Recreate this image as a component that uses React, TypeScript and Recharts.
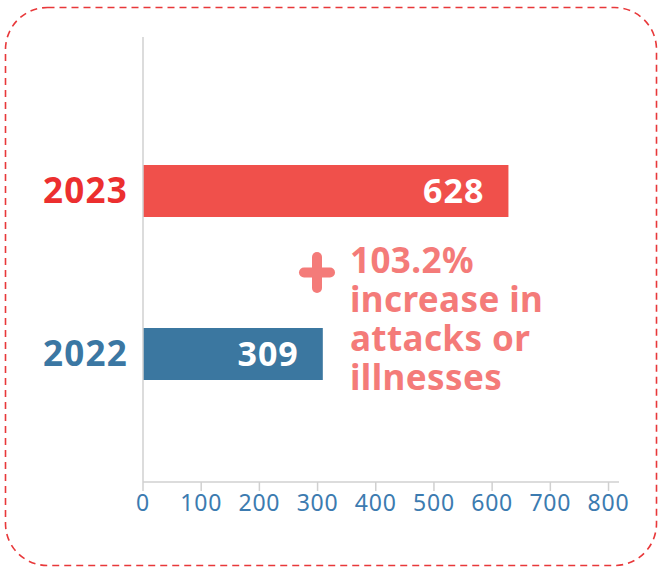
import React from 'react';
import { BarChart, Bar, XAxis, YAxis, Cell, LabelList } from 'recharts';

const years = ['2023', '2022'];
const incidents = [628, 309];
const barColors = ['#f0504b', '#3b77a0'];
const yearColors = ['#ec2f2f', '#3b77a3'];
const xTicks = [0, 100, 200, 300, 400, 500, 600, 700, 800];
const noteLines = ['103.2%', 'increase in', 'attacks or', 'illnesses'];

const chartData = years.map((year, i) => ({ year, value: incidents[i] }));

const FONT = "'Noto Sans', 'Open Sans', sans-serif";

const YearTick = (props: any) => {
  const { x, y, payload } = props;
  const idx = years.indexOf(payload.value);
  return (
    <text x={x - 7} y={y} dy="0.36em" textAnchor="end" fill={yearColors[idx]}
      fontFamily={FONT} fontWeight={700} fontSize={35} letterSpacing={1.2}>
      {payload.value}
    </text>
  );
};

const ValueTick = (props: any) => {
  const { x, y, payload } = props;
  return (
    <text x={x} y={y} dy="0.71em" textAnchor="middle" fill="#3c7bb0"
      fontFamily={FONT} fontSize={23} letterSpacing={0.8}>
      {payload.value}
    </text>
  );
};

const BarValue = (props: any) => {
  const { x, y, width, height, value } = props;
  return (
    <text x={x + width - 24} y={y + height / 2} dy="0.36em" textAnchor="end" fill="#ffffff"
      fontFamily={FONT} fontWeight={700} fontSize={34} letterSpacing={1}>
      {value}
    </text>
  );
};

export default function App() {
  return (
    <div style={{ position: 'absolute', left: 0, top: 0, width: 658, height: 570, background: '#fff' }}>
      <BarChart
        width={658}
        height={570}
        data={chartData}
        layout="vertical"
        margin={{ top: 37, right: 39, left: 0, bottom: 48 }}
      >
        <XAxis
          type="number"
          domain={[0, 818]}
          ticks={xTicks}
          allowDataOverflow
          axisLine={{ stroke: '#d0d0d0', strokeWidth: 1.5 }}
          tickLine={{ stroke: '#d0d0d0', strokeWidth: 1.5 }}
          tickSize={9}
          tickMargin={4}
          height={40}
          tick={<ValueTick />}
        />
        <YAxis
          type="category"
          dataKey="year"
          width={143}
          axisLine={{ stroke: '#d0d0d0', strokeWidth: 1.5 }}
          tickLine={false}
          padding={{ top: 72, bottom: 47 }}
          tick={<YearTick />}
        />
        <Bar dataKey="value" barSize={52} isAnimationActive={false}>
          {chartData.map((d, i) => (
            <Cell key={d.year} fill={barColors[i]} />
          ))}
          <LabelList dataKey="value" content={<BarValue />} />
        </Bar>
      </BarChart>
      <svg width={658} height={570} style={{ position: 'absolute', left: 0, top: 0, pointerEvents: 'none' }}>
        <rect x={5.5} y={7.5} width={651} height={558} rx={42} ry={42} fill="none"
          stroke="#e8383a" strokeWidth={1.6} strokeDasharray="7 5" />
        <g stroke="#f47b79" strokeWidth={10} strokeLinecap="round">
          <line x1={304} y1={272.5} x2={330} y2={272.5} />
          <line x1={317} y1={257} x2={317} y2={288} />
        </g>
        {noteLines.map((line, i) => (
          <text key={line} x={350} y={273 + i * 39} fill="#f47b79" fontFamily={FONT}
            fontWeight={700} fontSize={35} letterSpacing={0.4}>
            {line}
          </text>
        ))}
      </svg>
    </div>
  );
}
